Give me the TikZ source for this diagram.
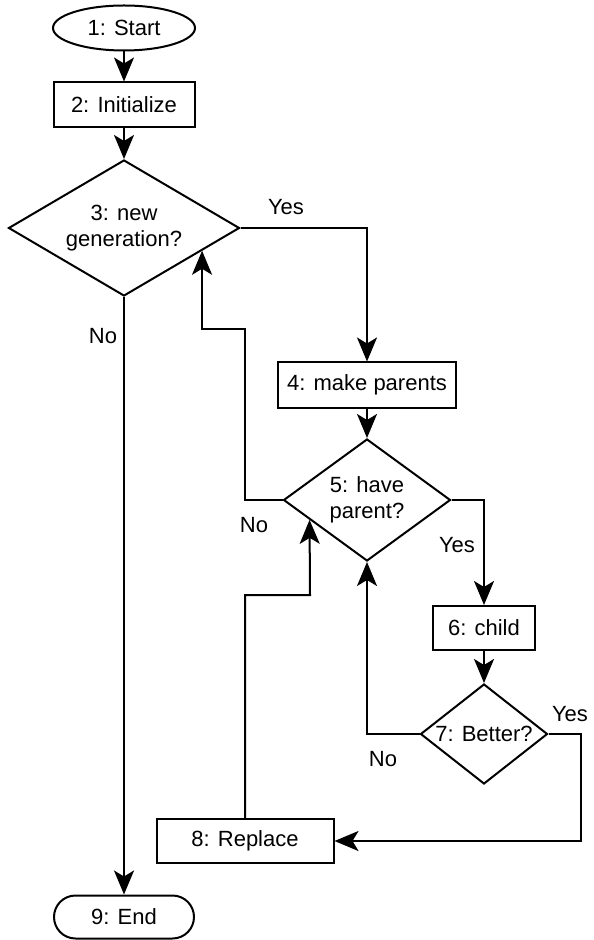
\documentclass[tikz,border=0pt]{standalone}
\usepackage{fontspec}
\setmainfont{Liberation Sans}
\usetikzlibrary{calc,shapes.geometric,arrows.meta}

\begin{document}
\begin{tikzpicture}[x=0.5pt, y=-0.5pt,
		every node/.style={font=\fontsize{11}{13}\selectfont, align=center},
		box/.style={draw, line width=1pt, rectangle, inner sep=0pt},
		decision/.style={draw, line width=1pt, diamond, inner sep=0pt},
		flow/.style={line width=1pt, -{Stealth[length=12pt, width=10pt, inset=3pt]}}]
			%%%%% START %%%%%
			\useasboundingbox (0, 0) rectangle (593, 940);
			
			\node[draw, line width=1pt, ellipse, inner sep=0pt, minimum width=71pt, minimum height=22.5pt] (start) at (124, 28) {1: Start};
			\node[box, minimum width=70.5pt, minimum height=22.5pt] (init) at (124, 105) {2: Initialize};
			\node[decision, aspect=1.7, minimum width=115.5pt, minimum height=68pt] (newgen) at (124, 228) {3: new\\generation?};
			\node[box, minimum width=89pt, minimum height=22.5pt] (parents) at (367, 385) {4: make parents};
			\node[decision, aspect=1.37, minimum width=83.5pt, minimum height=61pt] (haspar) at (367, 500) {5: have\\parent?};
			\node[box, minimum width=51pt, minimum height=22pt] (child) at (484, 628) {6: child};
			\node[decision, aspect=1.27, minimum width=63.5pt, minimum height=50pt] (better) at (484, 734) {7: Better?};
			\node[box, minimum width=88.5pt, minimum height=22pt] (replace) at (245, 841) {8: Replace};
			\node[box, rounded corners=10.75pt, minimum width=70pt, minimum height=21.5pt] (stop) at (124, 917) {9: End};
			
			\coordinate (gentip) at ($(newgen.east)!0.33!(newgen.south)$);
			\coordinate (partip) at ($(haspar.west)!0.32!(haspar.south)$);
			\coordinate (nobend) at (245, 329);
			\coordinate (retbend) at (310, 595);
			\coordinate (yesbend) at (581, 841);
			
			\draw[flow] (start) -- (init);
			\draw[flow] (init) -- (newgen);
			\draw[flow] (newgen.east) -| (parents.north);
			\draw[flow] (newgen.south) -- (stop.north);
			\draw[flow] (parents) -- (haspar);
			\draw[flow] (haspar.east) -| (child.north);
			\draw[flow] (haspar.west) -| (nobend) -| (gentip);
			\draw[flow] (child) -- (better);
			\draw[flow] (better.west) -| (haspar.south);
			\draw[flow] (better.east) -| (yesbend) -- (replace.east);
			\draw[flow] (replace.north) |- (retbend) -- (partip);
			
			\node (yesgen) at (286, 207) {Yes};
			\node (nogen) at (103, 336) {No};
			\node (nopar) at (254, 525) {No};
			\node (yespar) at (457, 545) {Yes};
			\node (yesbet) at (570, 714) {Yes};
			\node (nobet) at (383, 759) {No};
			%%%%% END %%%%%
\end{tikzpicture}
\end{document}
